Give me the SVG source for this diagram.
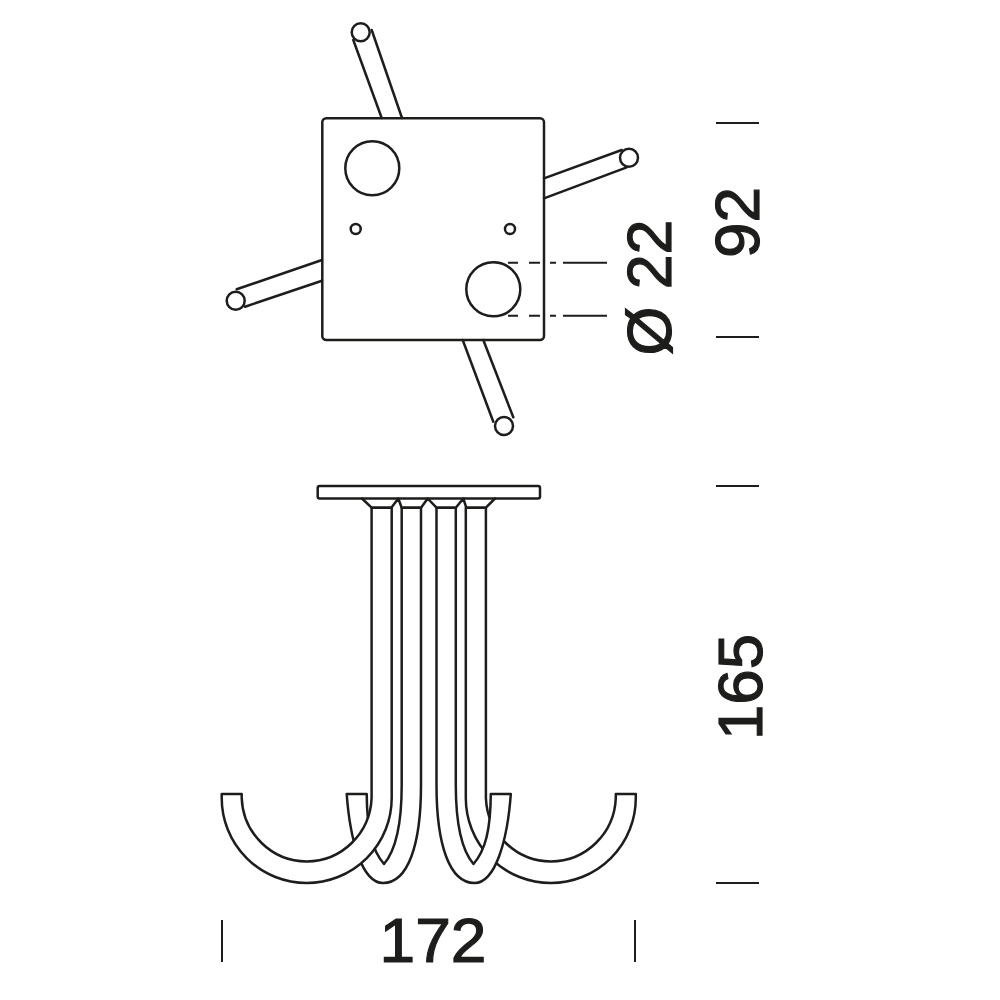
<svg xmlns="http://www.w3.org/2000/svg" width="1000" height="1000" viewBox="0 0 1000 1000">
<style>
.l{fill:none;stroke:#1d1d1b;stroke-width:2.5;stroke-linejoin:round;stroke-linecap:round}
.w{fill:#fff;stroke:#1d1d1b;stroke-width:2.5;stroke-linejoin:round}
.d{fill:none;stroke:#1d1d1b;stroke-width:2}
.t{font-family:"Liberation Sans",Arial,sans-serif;font-size:63px;fill:#1d1d1b;stroke:#1d1d1b;stroke-width:1.2}
</style>
<defs>
<path id="hookBig" class="w" d="M221.7 794H241.7V798A65 66 0 0 0 371.6 798V507.7H391.7V798A85 85 0 0 1 221.7 798Z"/>
<path id="hookTip" class="w" d="M346.7 794H366.7C367 830 372 850 384 864C396 850 401.7 825 401.7 785V507.7H421V785C421 845 408 883 383 883C362 883 350 840 346.7 794Z"/>
</defs>
<rect width="1000" height="1000" fill="#fff"/>
<g id="plan-view">
<g id="rods">
<path class="l" d="M353.3 40L381.7 118M371.7 30L402 118"/>
<circle class="w" cx="360.7" cy="32.3" r="9"/>
<path class="l" d="M621.7 150L544 178.3M626.7 167.3L544 198.3"/>
<circle class="w" cx="629" cy="157.7" r="9"/>
<path class="l" d="M236.7 289.3L322 260M245 306.7L322 280.7"/>
<circle class="w" cx="235.7" cy="300.7" r="9"/>
<path class="l" d="M462.7 340L493.3 421.7M483.3 340L513.3 417.3"/>
<circle class="w" cx="504" cy="426" r="9"/>
</g>
<rect id="base-square" class="l" x="322.3" y="118.3" width="221.7" height="221.7" rx="4"/>
<circle class="l" cx="372.3" cy="168.3" r="27"/>
<circle class="l" cx="493.3" cy="289.3" r="27"/>
<circle class="l" cx="355.7" cy="229" r="5"/>
<circle class="l" cx="510" cy="229" r="5"/>
</g>
<g id="front-view">
<use href="#hookTip"/>
<use href="#hookBig"/>
<use href="#hookBig" transform="matrix(-1 0 0 1 857.5 0)"/>
<use href="#hookTip" transform="matrix(-1 0 0 1 857.5 0)"/>
<rect id="plate" class="l" x="317.7" y="486" width="222.3" height="12.5" rx="2"/>
<path class="l" d="M362 498.5L371.6 507.7H391.3L398.3 498.5L401.7 507.7H421L427.7 498.5L436.5 507.7H455.8L463.3 498.5L466.3 507.7H485.9L495 498.5"/>
</g>
<g id="connectors">
<path class="d" d="M508 262.7H518M529 262.7H540M550 262.7H556M563 262.7H607M508 315.7H518M529 315.7H540M550 315.7H556M563 315.7H607"/>
<path class="d" d="M716 123H759M716 337H759M716 486H759M716 883H759M222 920V962M635 920V962"/>
</g>
<g id="labels">
<text class="t" x="433" y="962" text-anchor="middle" textLength="107" lengthAdjust="spacingAndGlyphs">172</text>
<text class="t" transform="translate(762 687) rotate(-90)" text-anchor="middle" textLength="106" lengthAdjust="spacingAndGlyphs">165</text>
<text class="t" transform="translate(759 222.5) rotate(-90)" text-anchor="middle" textLength="71" lengthAdjust="spacingAndGlyphs">92</text>
<text class="t" transform="translate(671 287.5) rotate(-90)" text-anchor="middle" textLength="136" lengthAdjust="spacingAndGlyphs">Ø 22</text>
</g>
</svg>
